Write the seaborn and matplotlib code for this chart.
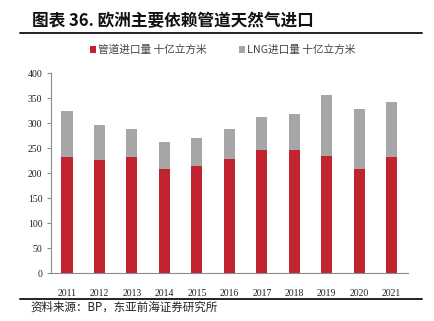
import matplotlib
matplotlib.use("Agg")
import matplotlib.pyplot as plt
from matplotlib.lines import Line2D
from matplotlib.patches import Patch
import seaborn as sns
import pandas as pd

years = ["2011", "2012", "2013", "2014", "2015", "2016", "2017", "2018", "2019", "2020", "2021"]
pipeline = [233, 227, 233, 208, 214, 229, 246, 246, 235, 209, 232]
lng = [92, 70, 55, 54, 57, 60, 67, 73, 121, 119, 110]
yticks = [0, 50, 100, 150, 200, 250, 300, 350, 400]

title = "图表 36. 欧洲主要依赖管道天然气进口"
label_pipe = "管道进口量 十亿立方米"
label_lng = "LNG进口量 十亿立方米"
source = "资料来源：BP，东亚前海证券研究所"

sns.set_theme(style="white")
plt.rcParams["font.family"] = ["Liberation Serif", "Noto Sans CJK SC", "DejaVu Sans"]

RED = "#C1232F"
GRAY = "#A6A6A6"

df = pd.DataFrame({"year": years, "pipe": pipeline, "lng": lng})
df["total"] = df["pipe"] + df["lng"]

fig = plt.figure(figsize=(4.34, 3.21), dpi=100)
ax = fig.add_axes([0.117, 0.1486, 0.823, 0.6230])

sns.barplot(data=df, x="year", y="total", color=GRAY, width=0.34, ax=ax,
            saturation=1, linewidth=0)
sns.barplot(data=df, x="year", y="pipe", color=RED, width=0.34, ax=ax,
            saturation=1, linewidth=0)

ax.set_xlim(-0.5, len(years) - 0.5)
ax.set_ylim(0, 400)
ax.set_yticks(yticks)
ax.set_xlabel("")
ax.set_ylabel("")
for s in ["top", "right"]:
    ax.spines[s].set_visible(False)
for s in ["left", "bottom"]:
    ax.spines[s].set_color("#8C8C8C")
    ax.spines[s].set_linewidth(0.8)
ax.tick_params(axis="y", which="both", left=True, length=3, width=0.8,
               color="#8C8C8C", labelsize=7, pad=3, labelcolor="#222222")
ax.tick_params(axis="x", bottom=False, labelsize=7, pad=5, labelcolor="#222222")
ax.grid(False)

# legend
handles = [Patch(facecolor=RED, edgecolor="none"), Patch(facecolor=GRAY, edgecolor="none")]
fig.legend(handles, [label_pipe, label_lng], loc="center", bbox_to_anchor=(0.513, 0.845),
           ncol=2, frameon=False, handlelength=0.6, handleheight=0.6,
           handletextpad=0.2, columnspacing=3.0, labelcolor="#444444",
           prop={"family": ["Noto Sans CJK SC"], "size": 7.7})

# title and rules
fig.text(0.073, 0.935, title, fontsize=12, fontweight="bold", color="#111111",
         ha="left", va="center", family=["Noto Sans CJK SC", "DejaVu Sans"])
fig.add_artist(Line2D([0.046, 0.972], [0.897, 0.897], color="#222222", lw=1.4))
fig.add_artist(Line2D([0.046, 0.972], [0.069, 0.069], color="#222222", lw=1.4))
fig.text(0.069, 0.043, source, fontsize=8.3, color="#222222", ha="left", va="center",
         family=["Noto Sans CJK SC", "DejaVu Sans"])

fig.savefig("out.png", dpi=100)
